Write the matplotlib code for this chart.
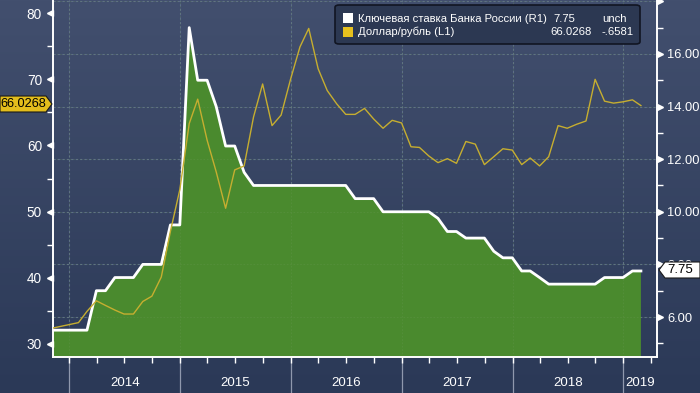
import matplotlib
matplotlib.use('Agg')
import matplotlib.pyplot as plt
import matplotlib.dates as mdates
import matplotlib.ticker as mticker
import matplotlib.transforms as mtrans
from matplotlib.patches import Polygon, FancyBboxPatch, Rectangle
import numpy as np
import pandas as pd
from datetime import datetime

plt.rcParams['font.family'] = ['Liberation Sans', 'DejaVu Sans']

# monthly points (month end), Oct 2013 .. Feb 2019
months = pd.date_range('2013-10-31', '2019-02-28', freq='ME')

# key rate of the Bank of Russia, % (right axis)
key_rate = [5.5, 5.5, 5.5, 5.5, 5.5, 7.0, 7.0, 7.5, 7.5, 7.5, 8.0, 8.0,   # 2013-10 .. 2014-09
            8.0, 9.5, 9.5,                                                 # 2014-10 .. 2014-12
            17.0, 15.0, 15.0, 14.0, 12.5, 12.5, 11.5, 11.0, 11.0, 11.0, 11.0, 11.0,   # 2015
            11.0, 11.0, 11.0, 11.0, 11.0, 11.0, 10.5, 10.5, 10.5, 10.0, 10.0, 10.0,   # 2016
            10.0, 10.0, 10.0, 9.75, 9.25, 9.25, 9.0, 9.0, 9.0, 8.5, 8.25, 8.25,       # 2017
            7.75, 7.75, 7.5, 7.25, 7.25, 7.25, 7.25, 7.25, 7.25, 7.5, 7.5, 7.5,       # 2018
            7.75, 7.75]                                                    # 2019

# USD/RUB (left axis)
usd_rub = [32.3, 32.6, 32.9, 33.2, 34.9, 36.5, 35.8, 35.1, 34.5, 34.5, 36.4, 37.2,
           40.1, 47.0, 53.3,
           63.3, 67.0, 60.8, 56.0, 50.5, 56.3, 56.9, 64.3, 69.3, 63.0, 64.6, 70.0,
           74.9, 77.7, 71.6, 68.3, 66.3, 64.7, 64.7, 65.6, 64.0, 62.6, 63.8, 63.4,
           59.8, 59.7, 58.4, 57.4, 58.0, 57.3, 60.6, 60.2, 57.1, 58.3, 59.5, 59.3,
           57.1, 58.1, 56.9, 58.3, 63.0, 62.6, 63.2, 63.7, 70.0, 66.7, 66.4, 66.6,
           66.9, 66.03]

years = ['2014', '2015', '2016', '2017', '2018', '2019']
left_ticks = [30, 40, 50, 60, 70, 80]
right_ticks = [6, 8, 10, 12, 14, 16, 18]
right_labels = ['6.00', '8.00', '10.00', '12.00', '14.00', '16.00', '']

W, H = 700, 393
fig = plt.figure(figsize=(7.0, 3.93), dpi=100)

# background gradient
bg = fig.add_axes([0, 0, 1, 1], zorder=-10)
grad = np.linspace(0, 1, 256).reshape(-1, 1)
top_c = np.array([0x42, 0x4f, 0x6e]) / 255
bot_c = np.array([0x2b, 0x39, 0x57]) / 255
img = top_c * (1 - grad[..., None]) + bot_c * grad[..., None]
bg.imshow(img, aspect='auto', extent=[0, 1, 0, 1])
bg.set_axis_off()

ax = fig.add_axes([53 / W, 1 - 357 / H, (657 - 53) / W, 357 / H])
ax.patch.set_alpha(0)
axr = ax.twinx()
ax.set_zorder(3)
axr.set_zorder(2)
axr.patch.set_alpha(0)

x0, x1 = datetime(2013, 11, 8), datetime(2019, 4, 22)
ax.set_xlim(x0, x1)
ax.set_ylim(28.0, 82.0)
axr.set_ylim(4.48, 18.05)

grid_c = '#5d6c8a'
# gridlines
for v in right_ticks:
    axr.axhline(v, color=grid_c, lw=0.8, ls=(0, (2, 2)), zorder=0)
for y in range(2014, 2020):
    axr.axvline(datetime(y, 1, 1), color=grid_c, lw=0.8, ls=(0, (2, 2)), zorder=0)

# key rate fill + line
axr.fill_between(months, key_rate, 0, color='#4a8a2e', lw=0, zorder=1)
for v in right_ticks:
    axr.axhline(v, color='#6f9a5a', lw=0.6, ls=(0, (2, 2)), zorder=1.5, alpha=0.3)
for y in range(2014, 2020):
    axr.axvline(datetime(y, 1, 1), color='#6f9a5a', lw=0.6, ls=(0, (2, 2)), zorder=1.5, alpha=0.3)
axr.plot(months, key_rate, color='white', lw=2.0, zorder=2)

# USD/RUB line
ax.plot(months, usd_rub, color='#c6ae30', lw=1.0, zorder=4)

# spines
for a in (ax, axr):
    a.spines['top'].set_visible(False)
    for s in ('left', 'right', 'bottom'):
        a.spines[s].set_color('white')
        a.spines[s].set_linewidth(1.2)

# x axis: quarterly ticks, year labels drawn by hand
ax.xaxis.set_major_locator(mdates.MonthLocator(bymonth=[1, 4, 7, 10]))
ax.xaxis.set_major_formatter(mticker.NullFormatter())
ax.tick_params(axis='x', direction='out', length=4, color='white', width=1)
axr.tick_params(axis='x', length=0)

# left axis
ax.set_yticks(left_ticks)
ax.yaxis.set_minor_locator(mticker.FixedLocator([35, 45, 55, 65, 75]))
ax.tick_params(axis='y', which='major', length=0, pad=8, labelsize=9.8, labelcolor='white')
ax.tick_params(axis='y', which='minor', length=4, color='white', width=1)
ax.plot([0] * len(left_ticks), left_ticks, marker='<', ms=4.5, color='white', ls='none',
        transform=mtrans.offset_copy(ax.get_yaxis_transform(), fig, x=-3, units='dots'),
        clip_on=False, zorder=5)

# right axis
axr.set_yticks(right_ticks)
axr.yaxis.set_major_formatter(mticker.FixedFormatter(right_labels))
axr.yaxis.set_minor_locator(mticker.FixedLocator([5, 7, 9, 11, 13, 15, 17]))
axr.tick_params(axis='y', which='major', length=0, pad=7.5, labelsize=9.3, labelcolor='white')
axr.tick_params(axis='y', which='minor', length=4, color='white', width=1)
axr.plot([1] * len(right_ticks), right_ticks, marker='>', ms=4.5, color='white', ls='none',
         transform=mtrans.offset_copy(axr.get_yaxis_transform(), fig, x=3, units='dots'),
         clip_on=False, zorder=5)

# year separators and labels below the axis
for i, y in enumerate(years):
    xb = mdates.date2num(datetime(int(y), 1, 1))
    xp = ax.transData.transform((xb, 0))[0] / W
    fig.add_artist(plt.Line2D([xp, xp], [0, 1 - 357 / H], color='#8f98ad', lw=0.9))
    xe = mdates.date2num(datetime(int(y) + 1, 1, 1)) if y != '2019' else mdates.date2num(x1)
    xm = ax.transData.transform(((xb + xe) / 2, 0))[0] / W
    fig.text(xm, 1 - 383 / H, y, color='white', fontsize=9.5, ha='center', va='center')

# legend box
lg = FancyBboxPatch((335 / W, 1 - 44 / H), 305 / W, 39 / H,
                    boxstyle='round,pad=0,rounding_size=0.006',
                    transform=fig.transFigure, facecolor='#2c3852', edgecolor='#111522', lw=1.2, zorder=20)
fig.add_artist(lg)
fig.add_artist(Rectangle((343 / W, 1 - 23 / H), 10 / W, 10 / H, transform=fig.transFigure,
                         facecolor='white', edgecolor='none', zorder=21))
fig.add_artist(Rectangle((343 / W, 1 - 37 / H), 10 / W, 10 / H, transform=fig.transFigure,
                         facecolor='#e6c01e', edgecolor='none', zorder=21))
kw = dict(color='white', fontsize=8.1, va='center', zorder=22)
fig.text(358 / W, 1 - 18.5 / H, 'Ключевая ставка Банка России (R1)', **kw)
fig.text(553 / W, 1 - 18.5 / H, '7.75', **kw)
fig.text(602 / W, 1 - 18.5 / H, 'unch', **kw)
fig.text(358 / W, 1 - 32 / H, 'Доллар/рубль (L1)', **kw)
fig.text(592 / W, 1 - 32 / H, '66.0268', ha='right', **kw)
fig.text(634 / W, 1 - 32 / H, '-.6581', ha='right', **kw)

# value tags
ty = 104
tagL = Polygon([(0, 1 - (ty - 8) / H), (46 / W, 1 - (ty - 8) / H), (52 / W, 1 - ty / H),
                (46 / W, 1 - (ty + 8) / H), (0, 1 - (ty + 8) / H)],
               closed=True, transform=fig.transFigure, facecolor='#e3bd1c', edgecolor='#1a1a1a', lw=0.8, zorder=20)
fig.add_artist(tagL)
fig.text(23 / W, 1 - ty / H, '66.0268', color='black', fontsize=9.2, ha='center', va='center', zorder=21)

ry = 270
tagR = Polygon([(659 / W, 1 - ry / H), (665 / W, 1 - (ry - 8) / H), (700 / W, 1 - (ry - 8) / H),
                (700 / W, 1 - (ry + 8) / H), (665 / W, 1 - (ry + 8) / H)],
               closed=True, transform=fig.transFigure, facecolor='white', edgecolor='#1a1a1a', lw=0.8, zorder=20)
fig.add_artist(tagR)
fig.text(667 / W, 1 - ry / H, '7.75', color='black', fontsize=9.5, ha='left', va='center', zorder=21)

fig.savefig('out.png', dpi=100)
